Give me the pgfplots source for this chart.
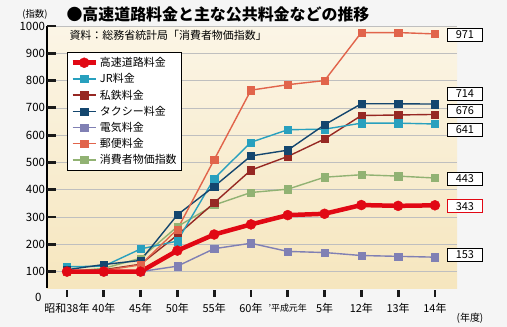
\documentclass[border=0pt]{standalone}
\usepackage{pgfplots}
\usepackage{pgfplotstable}
\pgfplotsset{compat=1.18}
\usepackage{fontspec}
\setmainfont{Noto Sans CJK JP}
\definecolor{cHwy}{RGB}{225,8,20}
\definecolor{cJR}{RGB}{40,160,190}
\definecolor{cPvt}{RGB}{150,40,35}
\definecolor{cTaxi}{RGB}{20,70,110}
\definecolor{cElec}{RGB}{128,128,180}
\definecolor{cPost}{RGB}{225,100,75}
\definecolor{cCPI}{RGB}{145,178,115}
\definecolor{bgTop}{RGB}{251,245,230}
\definecolor{bgBot}{RGB}{246,230,190}
\pgfplotstableread{
x hwy jr pvt taxi elec post cpi
0 100 118 100 107 100 100 100
1 100 120 107 126 100 104 112
2 100 183 127 141 100 125 149
3 177 212 234 308 120 255 265
4 236 441 352 412 184 510 344
5 273 574 472 524 204 765 390
6 307 620 522 545 174 785 402
7 312 622 586 638 170 800 446
8 344 644 672 715 159 976 455
9 341 644 674 715 156 976 450
10 343 641 676 714 153 971 443
}\data
\pgfplotsset{
  thin line/.style={line width=1.4bp, mark=square*, mark size=3.6bp, color=#1, mark options={fill=#1, line width=0.3bp, solid}},
  hwy line/.style={line width=4.5bp, mark=*, mark size=5bp, color=cHwy, mark options={fill=cHwy, line width=0.4bp, solid}},
}
\begin{document}
\begin{tikzpicture}
\fill[black!4] (-47bp,-39bp) rectangle (460bp,288bp);
\begin{axis}[
  scale only axis, width=410bp, height=262bp,
  xmin=-0.543, xmax=10.6, ymin=40, ymax=1000,
  axis background/.style={top color=bgTop, bottom color=bgBot},
  axis y line=left, axis x line=bottom,
  axis line style={-},
  x axis line style={draw=bgBot},
  y axis line style={draw=black, line width=1.3bp},
  tick align=inside,
  major tick length=0pt,
  xtick={0,...,10},
  xticklabels={昭和38年,40年,45年,50年,55年,60年,{\fontsize{9}{9}\selectfont '平成元年},5年,12年,13年,14年},
  ytick={100,200,...,1000},
  ymajorgrids, grid style={black!25, line width=0.7bp},
  x tick label style={font=\fontsize{11}{11}\selectfont, yshift=-12bp},
  y tick label style={font=\fontsize{11.5}{11.5}\selectfont, xshift=1.5bp},
  /pgf/number format/assume math mode=true,
  /pgf/number format/1000 sep={},
  clip=false,
  legend style={at={(axis description cs:0.049,0.9008)}, anchor=north west, draw=black, line width=0.8bp, fill=white,
     font=\fontsize{11}{11}\selectfont, row sep=1.5bp, inner xsep=3bp, inner ysep=3bp},
  legend cell align=left,
  legend image code/.code={\draw[mark repeat=2,mark phase=2,#1] plot coordinates {(0bp,0bp) (11.5bp,0bp) (23bp,0bp)};},
]
\addlegendimage{hwy line}\addlegendentry{高速道路料金}
\addlegendimage{thin line=cJR}\addlegendentry{JR料金}
\addlegendimage{thin line=cPvt}\addlegendentry{私鉄料金}
\addlegendimage{thin line=cTaxi}\addlegendentry{タクシー料金}
\addlegendimage{thin line=cElec}\addlegendentry{電気料金}
\addlegendimage{thin line=cPost}\addlegendentry{郵便料金}
\addlegendimage{thin line=cCPI}\addlegendentry{消費者物価指数}

\addplot[thin line=cElec, forget plot] table[x=x,y=elec]{\data};
\addplot[thin line=cCPI, forget plot] table[x=x,y=cpi]{\data};
\addplot[thin line=cPvt, forget plot] table[x=x,y=pvt]{\data};
\addplot[thin line=cJR, forget plot] table[x=x,y=jr]{\data};
\addplot[thin line=cTaxi, forget plot] table[x=x,y=taxi]{\data};
\addplot[thin line=cPost, forget plot] table[x=x,y=post]{\data};
\addplot[hwy line, forget plot] table[x=x,y=hwy]{\data};

\tikzset{vbox/.style={draw=black, line width=0.8bp, fill=white, minimum width=35bp, minimum height=13bp, inner sep=0pt, font=\fontsize{11}{11}\selectfont}}
\node[vbox] at (axis cs:10.816,967) {971};
\node[vbox] at (axis cs:10.816,751) {714};
\node[vbox] at (axis cs:10.816,689) {676};
\node[vbox] at (axis cs:10.816,619) {641};
\node[vbox] at (axis cs:10.816,440) {443};
\node[vbox, draw=cHwy] at (axis cs:10.816,340) {343};
\node[vbox] at (axis cs:10.816,161) {153};
\end{axis}
% tick marks (axis decoration), axis south west is at the origin
\foreach \k in {100,200,...,1000} {
  \pgfmathsetmacro\yy{(\k-40)*0.272917}
  \draw[black!90, line width=2.8bp] (0bp,\yy bp) -- (9bp,\yy bp);
}
\foreach \k in {0,...,10} {
  \pgfmathsetmacro\xx{(\k+0.543)*36.794}
  \draw[black!90, line width=2.8bp] (\xx bp,-2bp) -- (\xx bp,-9bp);
}
\node[anchor=west, font=\bfseries\fontsize{16}{16}\selectfont] at (16bp,274bp) {●高速道路料金と主な公共料金などの推移};
\node[anchor=west, font=\fontsize{11}{11}\selectfont] at (19bp,253bp) {資料：総務省統計局「消費者物価指数」};
\node[font=\fontsize{9.5}{9.5}\selectfont] at (-12bp,274bp) {(指数)};
\node[font=\fontsize{10}{10}\selectfont] at (423bp,-30bp) {(年度)};
\node[anchor=east, font=\fontsize{11.5}{11.5}\selectfont] at (-2bp,-9bp) {0};
\end{tikzpicture}
\end{document}
